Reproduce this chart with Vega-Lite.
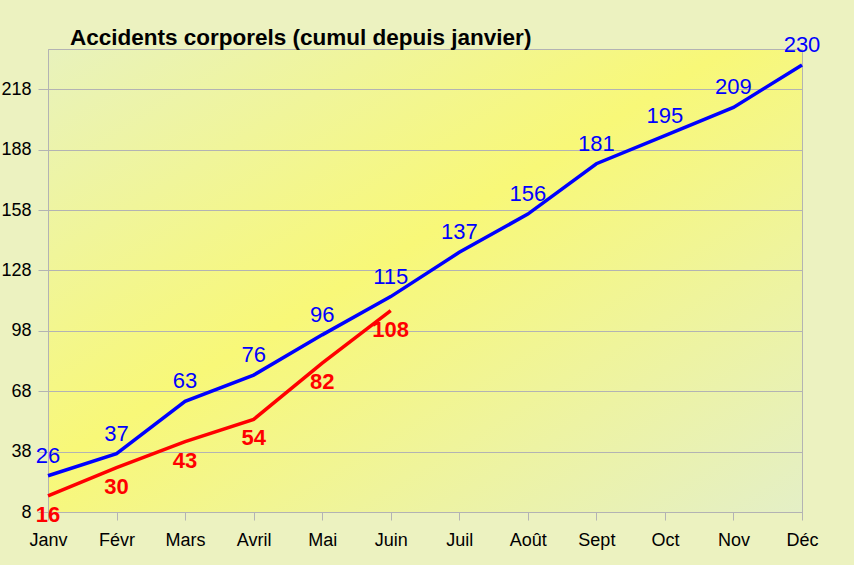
{
  "$schema": "https://vega.github.io/schema/vega-lite/v6.json",
  "width": 754,
  "height": 463,
  "autosize": {"type": "none"},
  "padding": {"left": 48, "top": 49, "right": 52, "bottom": 53},
  "background": "#ecf2c0",
  "title": {
    "text": "Accidents corporels (cumul depuis janvier)",
    "anchor": "start",
    "frame": "group",
    "dx": 22,
    "dy": 37,
    "offset": 4,
    "baseline": "alphabetic",
    "font": "Liberation Sans",
    "fontSize": 22.5,
    "fontWeight": "bold",
    "color": "#000000"
  },
  "data": {
    "values": [
      {"mois": "Janv", "serie": "précédente", "valeur": 26},
      {"mois": "Févr", "serie": "précédente", "valeur": 37},
      {"mois": "Mars", "serie": "précédente", "valeur": 63},
      {"mois": "Avril", "serie": "précédente", "valeur": 76},
      {"mois": "Mai", "serie": "précédente", "valeur": 96},
      {"mois": "Juin", "serie": "précédente", "valeur": 115},
      {"mois": "Juil", "serie": "précédente", "valeur": 137},
      {"mois": "Août", "serie": "précédente", "valeur": 156},
      {"mois": "Sept", "serie": "précédente", "valeur": 181},
      {"mois": "Oct", "serie": "précédente", "valeur": 195},
      {"mois": "Nov", "serie": "précédente", "valeur": 209},
      {"mois": "Déc", "serie": "précédente", "valeur": 230},
      {"mois": "Janv", "serie": "actuelle", "valeur": 16},
      {"mois": "Févr", "serie": "actuelle", "valeur": 30},
      {"mois": "Mars", "serie": "actuelle", "valeur": 43},
      {"mois": "Avril", "serie": "actuelle", "valeur": 54},
      {"mois": "Mai", "serie": "actuelle", "valeur": 82},
      {"mois": "Juin", "serie": "actuelle", "valeur": 108}
    ]
  },
  "encoding": {
    "x": {
      "field": "mois",
      "type": "ordinal",
      "scale": {
        "type": "point",
        "padding": 0,
        "domain": ["Janv", "Févr", "Mars", "Avril", "Mai", "Juin", "Juil", "Août", "Sept", "Oct", "Nov", "Déc"]
      },
      "axis": {
        "title": null,
        "labelAngle": 0,
        "tickSize": 8,
        "labelPadding": 11,
        "grid": false
      }
    },
    "y": {
      "field": "valeur",
      "type": "quantitative",
      "scale": {"domain": [8, 238], "nice": false, "zero": false},
      "axis": {
        "title": null,
        "values": [8, 38, 68, 98, 128, 158, 188, 218],
        "tickSize": 10,
        "labelPadding": 7,
        "grid": true
      }
    }
  },
  "layer": [
    {
      "mark": {"type": "line", "strokeWidth": 3.5},
      "encoding": {
        "color": {
          "field": "serie",
          "type": "nominal",
          "scale": {"domain": ["précédente", "actuelle"], "range": ["#0000ff", "#ff0000"]},
          "legend": null
        }
      }
    },
    {
      "transform": [{"filter": "datum.serie === 'précédente'"}],
      "mark": {"type": "text", "dy": -20, "baseline": "middle", "align": "center", "font": "Liberation Sans", "fontSize": 22, "color": "#0000ff"},
      "encoding": {"text": {"field": "valeur", "type": "quantitative"}}
    },
    {
      "transform": [{"filter": "datum.serie === 'actuelle'"}],
      "mark": {"type": "text", "dy": 19, "baseline": "middle", "align": "center", "font": "Liberation Sans", "fontSize": 22, "fontWeight": "bold", "color": "#ff0000"},
      "encoding": {"text": {"field": "valeur", "type": "quantitative"}}
    }
  ],
  "config": {
    "view": {
      "stroke": "#b3b3b3",
      "strokeWidth": 1,
      "fill": {
        "gradient": "linear",
        "x1": 0, "y1": 0, "x2": 1, "y2": 1,
        "stops": [
          {"offset": 0, "color": "#e8f2bc"},
          {"offset": 0.45, "color": "#f8f878"},
          {"offset": 1, "color": "#e4efc6"}
        ]
      }
    },
    "axis": {
      "domainColor": "#b3b3b3",
      "tickColor": "#b3b3b3",
      "gridColor": "#b3b3b3",
      "gridOpacity": 1,
      "labelFont": "Liberation Sans",
      "labelFontSize": 18,
      "labelColor": "#000000"
    }
  }
}
